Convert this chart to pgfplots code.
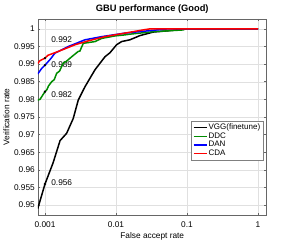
\documentclass[border=0pt]{standalone}
\usepackage{pgfplots}
\pgfplotsset{compat=1.18}
\usepackage{fontspec}
\setmainfont{Liberation Sans}
\definecolor{mgreen}{rgb}{0,0.55,0}
\begin{document}
\begin{tikzpicture}[font=\fontsize{8.3}{10}\selectfont]
\useasboundingbox (0,0) rectangle (294pt,242pt);
\begin{axis}[
  at={(38pt,27pt)}, anchor=south west,
  scale only axis, width=228.5pt, height=196pt,
  xmode=log, xmin=0.000797, xmax=1.317, ymin=0.9472, ymax=1.0028,
  xtick={0.001,0.01,0.1,1}, xticklabels={0.001,0.01,0.1,1},
  ytick={0.95,0.955,0.96,0.965,0.97,0.975,0.98,0.985,0.99,0.995,1},
  yticklabels={0.95,0.955,0.96,0.965,0.97,0.975,0.98,0.985,0.99,0.995,1},
  xminorticks=false, yminorticks=false,
  tick align=inside, tick pos=both,
  major tick length=2.5pt,
  grid=major, major grid style={black!12, line width=0.4pt},
  axis line style={black!60, line width=0.5pt},
  tick style={black!60, line width=0.5pt},
  xticklabel style={anchor=center, yshift=-10pt, inner sep=0pt},
  yticklabel style={anchor=east, xshift=-3pt, inner sep=0pt},
  title={\bfseries\fontsize{9.3}{11}\selectfont GBU performance (Good)},
  title style={at={(axis description cs:0.5,1)}, anchor=south, inner sep=0pt, yshift=-1pt},
  xlabel={False accept rate},
  xlabel style={at={(axis description cs:0.5,0)}, anchor=center, yshift=-21pt, inner sep=0pt},
  ylabel={Verification rate},
  ylabel style={at={(axis description cs:0,0.5)}, anchor=center, yshift=31.5pt, inner sep=0pt},
  legend style={at={(axis description cs:0.985,0.48)}, anchor=north east, draw=black!50,
    font=\fontsize{8}{9.6}\selectfont, inner sep=1.5pt, row sep=-0.8pt,
    nodes={inner sep=1.2pt}},
  legend cell align=left,
  legend image code/.code={\draw[#1, line width=1.5pt] (0pt,0pt) -- (13pt,0pt);},
]
\node[anchor=west, inner sep=0pt] at (axis cs:0.00122,0.9969) {0.992};
\node[anchor=west, inner sep=0pt] at (axis cs:0.00122,0.9898) {0.989};
\node[anchor=west, inner sep=0pt] at (axis cs:0.00122,0.9813) {0.982};
\node[anchor=west, inner sep=0pt] at (axis cs:0.00122,0.9563) {0.956};
\addplot[black, line width=1.5pt] coordinates {
(0.00079,0.9490) (0.001,0.9560) (0.0013,0.9620) (0.00163,0.9683) (0.00202,0.9704)
(0.0025,0.9746) (0.00294,0.9798) (0.00366,0.9836) (0.00506,0.9884) (0.0070,0.9921)
(0.0082,0.9932) (0.0102,0.9955) (0.012,0.9964) (0.0157,0.9969) (0.0218,0.9981)
(0.0335,0.9991) (0.05,0.9994) (0.0716,0.9997) (0.1,1) (1,1)};
\addlegendentry{VGG(finetune)}
\addplot[mgreen, line width=1.5pt] coordinates {
(0.00079,0.9798) (0.00085,0.9800) (0.001,0.9822) (0.00106,0.9827) (0.00112,0.9838)
(0.00124,0.9850) (0.00135,0.9856) (0.00146,0.9874) (0.0016,0.9880) (0.00181,0.9903)
(0.002,0.9908) (0.00238,0.9921) (0.00294,0.9936) (0.0031,0.9937) (0.00346,0.9959)
(0.00506,0.9964) (0.00629,0.9973) (0.0097,0.9980) (0.0134,0.9983) (0.0157,0.9985)
(0.0335,0.9992) (0.0882,0.9997) (0.095,1) (1,1)};
\addlegendentry{DDC}
\addplot[blue, line width=1.5pt] coordinates {
(0.00079,0.9872) (0.0009,0.9888) (0.001,0.9897) (0.0012,0.9915) (0.00138,0.9931)
(0.00213,0.9950) (0.00366,0.9969) (0.0063,0.9978) (0.0134,0.9988) (0.03,0.9995)
(0.054,1) (1,1)};
\addlegendentry{DAN}
\addplot[red, line width=1.5pt] coordinates {
(0.00079,0.9902) (0.00085,0.9910) (0.001,0.9917) (0.0011,0.9925) (0.00154,0.9936)
(0.00265,0.9955) (0.00407,0.9966) (0.007,0.9978) (0.0134,0.9988) (0.024,0.9997)
(0.03,1) (1,1)};
\addlegendentry{CDA}
\addplot[only marks, mark=*, mark size=1pt, black, forget plot] coordinates {
(0.001,0.9917) (0.001,0.9897) (0.001,0.9822) (0.001,0.9560)};
\end{axis}
\end{tikzpicture}
\end{document}
